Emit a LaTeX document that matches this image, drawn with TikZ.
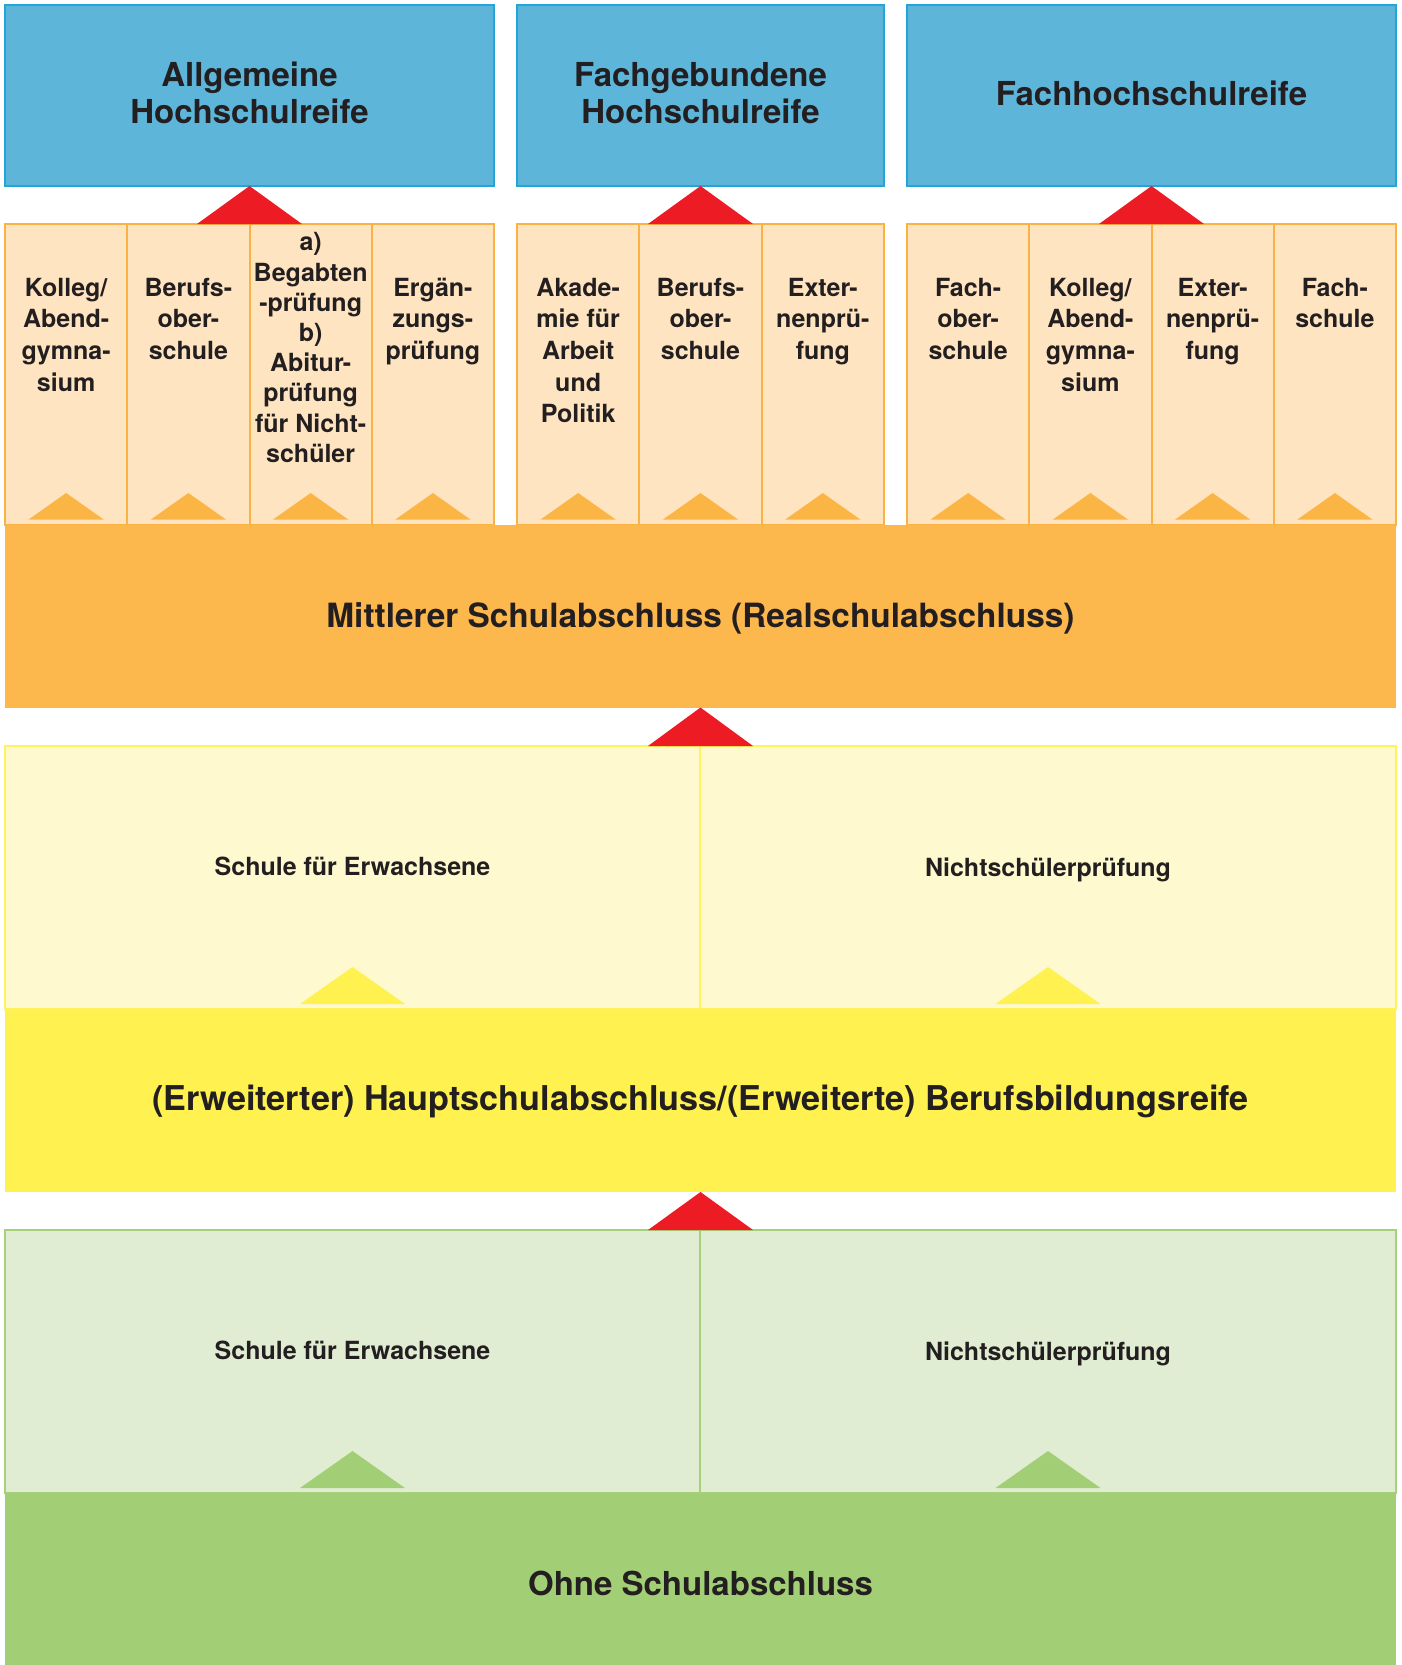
\documentclass[tikz,border=0pt]{standalone}
\usepackage{fontspec}
\setmainfont{TeX Gyre Heros}
\usetikzlibrary{calc}
\definecolor{ink}{HTML}{231F20}
\definecolor{hdrfill}{HTML}{5EB5DA}
\definecolor{hdrline}{HTML}{23A5D9}
\definecolor{tipred}{HTML}{ED1C24}
\definecolor{colfill}{HTML}{FEE4C0}
\definecolor{colline}{HTML}{FBB244}
\definecolor{orangeband}{HTML}{FDB84D}
\definecolor{orangetip}{HTML}{FBB545}
\definecolor{ylfill}{HTML}{FEF9CE}
\definecolor{ylline}{HTML}{FFF35A}
\definecolor{yellowband}{HTML}{FFF250}
\definecolor{glfill}{HTML}{E1EDD2}
\definecolor{glline}{HTML}{A5D17B}
\definecolor{greenband}{HTML}{A2CF76}

\begin{document}
\begin{tikzpicture}[x=1pt,y=-1pt,
  box/.style={anchor=north west, inner sep=0pt, outer sep=0pt},
  hdrbox/.style={box, fill=hdrfill, draw=hdrline, line width=1.5pt, minimum height=181pt},
  colbox/.style={box, fill=colfill, draw=colline, line width=2pt, minimum height=301pt,
    minimum width=122.3pt},
  band/.style={box, minimum width=1391pt},
  lightY/.style={box, fill=ylfill, draw=ylline, line width=2pt, minimum height=263pt},
  lightG/.style={box, fill=glfill, draw=glline, line width=2pt, minimum height=263pt},
  hdrtext/.style={inner sep=0pt, anchor=north, align=center, text=ink,
    font=\fontsize{33}{37.3}\selectfont\bfseries},
  hdrline1/.style={inner sep=0pt, anchor=base, text=ink,
    font=\fontsize{33}{37.3}\selectfont\bfseries},
  coltext/.style={inner sep=0pt, anchor=north, align=center, text=ink,
    font=\fontsize{25}{31.6}\selectfont\bfseries},
  bandtext/.style={inner sep=0pt, anchor=base, text=ink,
    font=\fontsize{33.4}{40}\selectfont\bfseries},
  routetext/.style={inner sep=0pt, anchor=base, text=ink,
    font=\fontsize{25}{30}\selectfont\bfseries},
  bigtip/.style={fill=tipred},
]
\useasboundingbox (0,0) rectangle (1401,1665);

% ---- qualification headers ----
\node[hdrbox, minimum width=489pt] (hA) at (5,5) {};
\node[hdrbox, minimum width=367pt] (hB) at (517,5) {};
\node[hdrbox, minimum width=489pt] (hC) at (907,5) {};
\node[hdrtext] (hAt) at ($(hA.north)+(0,54.9)$) {\strut Allgemeine\\Hochschulreife};
\node[hdrtext] (hBt) at ($(hB.north)+(0,54.9)$) {\strut Fachgebundene\\Hochschulreife};
\node[hdrline1] (hCt) at ($(hC.north)+(0,100)$) {Fachhochschulreife};

% ---- routes to the qualifications ----
\node[colbox] (c11) at (5,224) {};
\node[colbox] (c12) at (127.25,224) {};
\node[colbox] (c13) at (249.5,224) {};
\node[colbox] (c14) at (371.75,224) {};
\node[colbox] (c21) at (517,224) {};
\node[colbox] (c22) at (639.33,224) {};
\node[colbox] (c23) at (761.67,224) {};
\node[colbox] (c31) at (907,224) {};
\node[colbox] (c32) at (1029.25,224) {};
\node[colbox] (c33) at (1151.5,224) {};
\node[colbox] (c34) at (1273.75,224) {};

\node[coltext] (t11) at ($(c11.north)+(0,49.9)$) {\strut Kolleg/\\Abend-\\gymna-\\sium};
\node[coltext] (t12) at ($(c12.north)+(0,49.9)$) {\strut Berufs-\\ober-\\schule};
\node[coltext, font=\fontsize{25}{30.2}\selectfont\bfseries] (t13) at ($(c13.north)+(0,5.6)$)
  {\strut a)\\Begabten\\-prüfung\\b)\\Abitur-\\prüfung\\für Nicht-\\schüler};
\node[coltext] (t14) at ($(c14.north)+(0,49.9)$) {\strut Ergän-\\zungs-\\prüfung};
\node[coltext] (t21) at ($(c21.north)+(0,49.9)$) {\strut Akade-\\mie für\\Arbeit\\und\\Politik};
\node[coltext] (t22) at ($(c22.north)+(0,49.9)$) {\strut Berufs-\\ober-\\schule};
\node[coltext] (t23) at ($(c23.north)+(0,49.9)$) {\strut Exter-\\nenprü-\\fung};
\node[coltext] (t31) at ($(c31.north)+(0,49.9)$) {\strut Fach-\\ober-\\schule};
\node[coltext] (t32) at ($(c32.north)+(0,49.9)$) {\strut Kolleg/\\Abend-\\gymna-\\sium};
\node[coltext] (t33) at ($(c33.north)+(0,49.9)$) {\strut Exter-\\nenprü-\\fung};
\node[coltext] (t34) at ($(c34.north)+(0,49.9)$) {\strut Fach-\\schule};

\foreach \c in {c11,c12,c13,c14,c21,c22,c23,c31,c32,c33,c34}
  \fill[orangetip] ($(\c.south)+(-37.5,-5.5)$) -- ($(\c.south)+(0,-32)$)
    -- ($(\c.south)+(37.5,-5.5)$) -- cycle;

% red tips from the routes up to the headers
\coordinate (bA) at (hA.south |- c11.north);
\coordinate (bB) at (hB.south |- c21.north);
\coordinate (bC) at (hC.south |- c31.north);
\foreach \h/\b in {hA/bA,hB/bB,hC/bC}
  \fill[bigtip] ($(\b)+(-52.5,0)$) -- (\h.south) -- ($(\b)+(52.5,0)$) -- cycle;

% ---- Mittlerer Schulabschluss ----
\node[band, fill=orangeband, minimum height=182.5pt] (mid) at (5,525) {};
\node[bandtext] (midt) at (700.5,627.7) {Mittlerer Schulabschluss (Realschulabschluss)};

% ---- routes to the Mittlerer Schulabschluss ----
\node[lightY, minimum width=695pt] (y1) at (5,746) {};
\node[lightY, minimum width=696pt] (y2) at (700,746) {};
\node[routetext] (y1t) at ($(y1.north)+(0,129.5)$) {Schule für Erwachsene};
\node[routetext] (y2t) at ($(y2.north)+(0,130.5)$) {Nichtschülerprüfung};
\foreach \c in {y1,y2}
  \fill[yellowband] ($(\c.south)+(-52.5,-5)$) -- ($(\c.south)+(0,-42)$)
    -- ($(\c.south)+(52.5,-5)$) -- cycle;
\coordinate (bM) at (mid.south |- y1.north);
\fill[bigtip] ($(bM)+(-52.5,0)$) -- (mid.south) -- ($(bM)+(52.5,0)$) -- cycle;

% ---- Hauptschulabschluss ----
\node[band, fill=yellowband, minimum height=183pt] (low) at (5,1009) {};
\node[bandtext, font=\fontsize{34.2}{40}\selectfont\bfseries] (lowt) at (700.5,1110)
  {(Erweiterter) Hauptschulabschluss/(Erweiterte) Berufsbildungsreife};

% ---- routes to the Hauptschulabschluss ----
\node[lightG, minimum width=695pt] (g1) at (5,1230) {};
\node[lightG, minimum width=696pt] (g2) at (700,1230) {};
\node[routetext] (g1t) at ($(g1.north)+(0,129.5)$) {Schule für Erwachsene};
\node[routetext] (g2t) at ($(g2.north)+(0,130)$) {Nichtschülerprüfung};
\foreach \c in {g1,g2}
  \fill[greenband] ($(\c.south)+(-52.5,-5)$) -- ($(\c.south)+(0,-42)$)
    -- ($(\c.south)+(52.5,-5)$) -- cycle;
\coordinate (bL) at (low.south |- g1.north);
\fill[bigtip] ($(bL)+(-52.5,0)$) -- (low.south) -- ($(bL)+(52.5,0)$) -- cycle;

% ---- Ohne Schulabschluss ----
\node[band, fill=greenband, minimum height=172pt] (none) at (5,1493) {};
\node[bandtext, font=\fontsize{33}{40}\selectfont\bfseries] (nonet) at (700.5,1595) {Ohne Schulabschluss};
\end{tikzpicture}
\end{document}
